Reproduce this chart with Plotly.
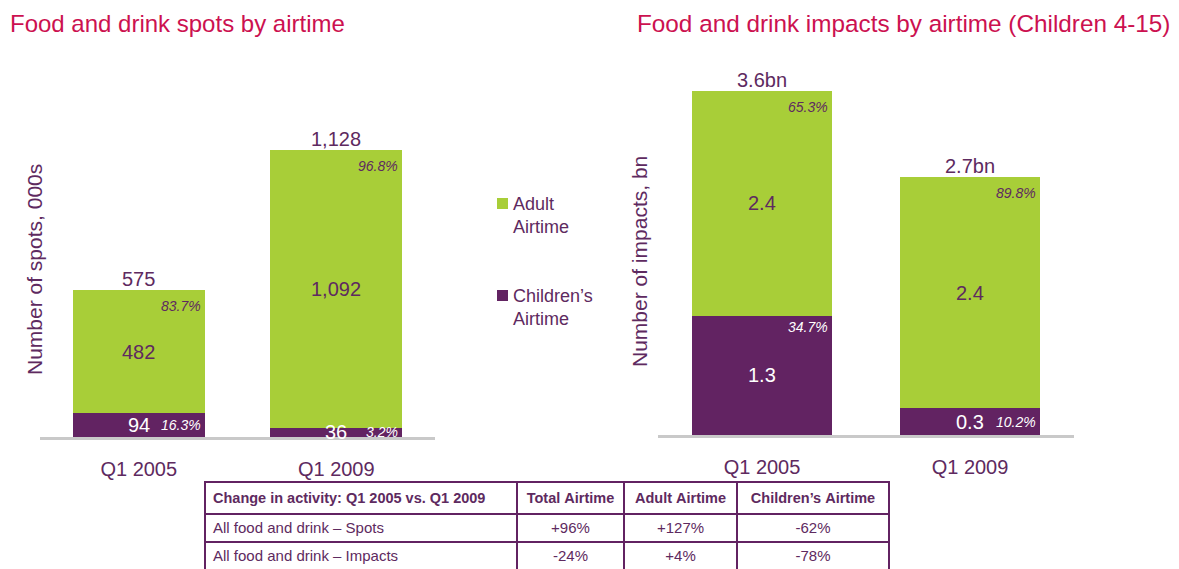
import plotly.graph_objects as go

# ---------------- data ----------------
categories = ["Q1 2005", "Q1 2009"]

spots_children = [94, 36]
spots_adult = [482, 1092]
spots_total_labels = ["575", "1,128"]
spots_children_labels = ["94", "36"]
spots_adult_labels = ["482", "1,092"]
spots_children_pct = ["16.3%", "3.2%"]
spots_adult_pct = ["83.7%", "96.8%"]

impacts_children = [1.25, 0.28]
impacts_adult = [2.35, 2.42]
impacts_total_labels = ["3.6bn", "2.7bn"]
impacts_children_labels = ["1.3", "0.3"]
impacts_adult_labels = ["2.4", "2.4"]
impacts_children_pct = ["34.7%", "10.2%"]
impacts_adult_pct = ["65.3%", "89.8%"]

table_header = ["Change in activity: Q1 2005 vs. Q1 2009", "Total Airtime",
                "Adult Airtime", "Children\u2019s Airtime"]
table_rows = ["All food and drink \u2013 Spots", "All food and drink \u2013 Impacts"]
table_total = ["+96%", "-24%"]
table_adult = ["+127%", "+4%"]
table_children = ["-62%", "-78%"]

# ---------------- style ----------------
W, H = 1179, 569
GREEN = "#a8ce38"
PURPLE = "#622362"
TXT_PURPLE = "#5e2a60"
TITLE = "#cc1150"
GRAY = "#c9c9c9"
FONT = "Liberation Sans, Arial, sans-serif"
BW = 0.67


def px(x):
    return x / W


def py(y):
    return 1 - y / H


def nowrap(s):
    return s.replace(" ", "\u00a0")


fig = go.Figure()

charts = [
    ("x", "y", spots_children, spots_adult, spots_total_labels, spots_children_labels,
     spots_adult_labels, spots_children_pct, spots_adult_pct),
    ("x2", "y2", impacts_children, impacts_adult, impacts_total_labels, impacts_children_labels,
     impacts_adult_labels, impacts_children_pct, impacts_adult_pct),
]

annotations = []
for xa, ya, ch, ad, tot_l, ch_l, ad_l, ch_p, ad_p in charts:
    fig.add_trace(go.Bar(x=categories, y=ch, name="Children's Airtime", marker_color=PURPLE,
                         marker_line_width=0, width=BW, xaxis=xa, yaxis=ya, showlegend=False,
                         hoverinfo="skip"))
    fig.add_trace(go.Bar(x=categories, y=ad, name="Adult Airtime", marker_color=GREEN,
                         marker_line_width=0, width=BW, xaxis=xa, yaxis=ya, showlegend=False,
                         hoverinfo="skip"))
    for i in range(len(categories)):
        c, a = ch[i], ad[i]
        t = c + a
        base = dict(xref=xa, yref=ya, showarrow=False)
        annotations.append(dict(base, x=i, y=t, text=tot_l[i], yanchor="bottom", yshift=-2,
                                font=dict(size=20, color=TXT_PURPLE)))
        annotations.append(dict(base, x=i, y=c + a / 2, text=ad_l[i], yanchor="middle",
                                font=dict(size=20, color=TXT_PURPLE)))
        annotations.append(dict(base, x=i, y=c / 2, text=ch_l[i], yanchor="middle",
                                font=dict(size=20, color="white")))
        annotations.append(dict(base, x=i + BW / 2, y=t, text="<i>" + ad_p[i] + "</i>",
                                xanchor="right", yanchor="top", xshift=-2, yshift=-6,
                                font=dict(size=14, color=TXT_PURPLE)))
        if c / t < 0.2:
            annotations.append(dict(base, x=i + BW / 2, y=c / 2, text="<i>" + ch_p[i] + "</i>",
                                    xanchor="right", yanchor="middle", xshift=-2,
                                    font=dict(size=14, color="white")))
        else:
            annotations.append(dict(base, x=i + BW / 2, y=c, text="<i>" + ch_p[i] + "</i>",
                                    xanchor="right", yanchor="top", xshift=-2, yshift=-1,
                                    font=dict(size=14, color="white")))

# titles
annotations.append(dict(xref="paper", yref="paper", x=px(8), y=py(23), xanchor="left",
                        yanchor="middle", showarrow=False, text="Food and drink spots by airtime",
                        font=dict(size=24, color=TITLE)))
annotations.append(dict(xref="paper", yref="paper", x=px(635), y=py(23), xanchor="left",
                        yanchor="middle", showarrow=False,
                        text="Food and drink impacts by airtime (Children 4-15)",
                        font=dict(size=24.3, color=TITLE)))
# axis titles
annotations.append(dict(xref="paper", yref="paper", x=px(34), y=py(270), textangle=-90,
                        xanchor="center", yanchor="middle",
                        showarrow=False, text="Number of spots, 000s",
                        font=dict(size=21, color=TXT_PURPLE)))
annotations.append(dict(xref="paper", yref="paper", x=px(639), y=py(262), textangle=-90,
                        xanchor="center", yanchor="middle",
                        showarrow=False, text="Number of impacts, bn",
                        font=dict(size=21, color=TXT_PURPLE)))
# legend
annotations.append(dict(xref="paper", yref="paper", x=px(511), y=py(216), xanchor="left",
                        yanchor="middle", align="left", showarrow=False,
                        text="Adult<br>Airtime", font=dict(size=18, color=TXT_PURPLE)))
annotations.append(dict(xref="paper", yref="paper", x=px(511), y=py(307), xanchor="left",
                        yanchor="middle", align="left", showarrow=False,
                        text="Children\u2019s<br>Airtime", font=dict(size=18, color=TXT_PURPLE)))

shapes = [
    dict(type="rect", xref="paper", yref="paper", x0=px(497), x1=px(508), y0=py(209), y1=py(198),
         fillcolor=GREEN, line_width=0),
    dict(type="rect", xref="paper", yref="paper", x0=px(497), x1=px(508), y0=py(301), y1=py(290),
         fillcolor=PURPLE, line_width=0),
]

# table
fig.add_trace(go.Table(
    domain=dict(x=[px(205), px(889)], y=[0, py(482)]),
    columnwidth=[312, 107, 113, 152],
    header=dict(values=["<b>" + nowrap(h) + "</b>" for h in table_header],
                align=["left", "center", "center", "center"],
                font=dict(size=14.5, color=TXT_PURPLE, family=FONT),
                fill_color="white", line=dict(color=PURPLE, width=2), height=28),
    cells=dict(values=[[nowrap(s) for s in table_rows], table_total, table_adult, table_children],
               align=["left", "center", "center", "center"],
               font=dict(size=15, color=TXT_PURPLE, family=FONT),
               fill_color="white", line=dict(color=PURPLE, width=2), height=28),
))

axis_x = dict(type="category", range=[-0.5, 1.5], showgrid=False, zeroline=False,
              showline=True, linecolor=GRAY, linewidth=3, ticks="outside", ticklen=12,
              tickcolor="rgba(0,0,0,0)", tickfont=dict(size=20, color=TXT_PURPLE),
              fixedrange=True)
axis_y = dict(showgrid=False, zeroline=False, showline=False, showticklabels=False,
              ticks="", fixedrange=True)

fig.update_layout(
    width=W, height=H,
    margin=dict(l=0, r=0, t=0, b=0),
    paper_bgcolor="white", plot_bgcolor="white",
    font=dict(family=FONT, color=TXT_PURPLE),
    barmode="stack",
    bargap=0,
    showlegend=False,
    xaxis=dict(axis_x, domain=[px(40), px(435)], anchor="y"),
    yaxis=dict(axis_y, domain=[py(437), py(60)], range=[0, 377 / 0.2544], anchor="x"),
    xaxis2=dict(axis_x, domain=[px(658), px(1074)], anchor="y2"),
    yaxis2=dict(axis_y, domain=[py(435), py(60)], range=[0, 375 / 95.6], anchor="x2"),
    annotations=annotations,
    shapes=shapes,
)

fig.write_html("out.html")
